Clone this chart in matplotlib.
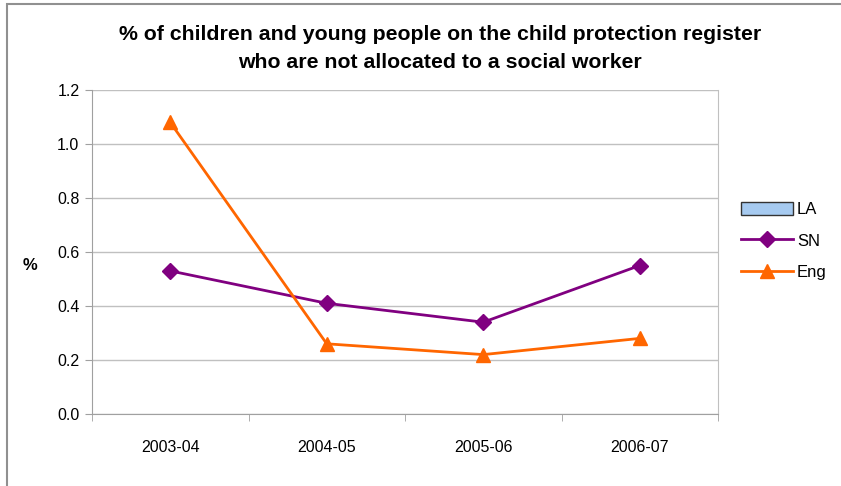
import numpy as np
import matplotlib.pyplot as plt
from matplotlib.patches import Rectangle

plt.rcParams['font.family'] = ['Liberation Sans', 'DejaVu Sans']

years = ['2003-04', '2004-05', '2005-06', '2006-07']
la = [np.nan, np.nan, np.nan, np.nan]
sn = [0.53, 0.41, 0.34, 0.55]
eng = [1.08, 0.26, 0.22, 0.28]
yticks = [0.0, 0.2, 0.4, 0.6, 0.8, 1.0, 1.2]

fig = plt.figure(figsize=(8.41, 4.86), dpi=100)
ax = fig.add_axes([92/841, 1 - 414/486, (718-92)/841, (414-90)/486])

x = np.arange(len(years))
h_la = ax.bar(x, la, color='#a6caf0', edgecolor='#333333', label='LA')
h_sn, = ax.plot(x, sn, color='#800080', lw=2, marker='D', ms=8, label='SN')
h_eng, = ax.plot(x, eng, color='#ff6600', lw=2, marker='^', ms=10, label='Eng')

ax.set_xlim(-0.5, len(years) - 0.5)
ax.set_ylim(0, 1.2)
ax.set_yticks(yticks)
ax.set_yticklabels([f'{v:.1f}' for v in yticks], fontsize=11.5)
ax.set_xticks(x)
ax.set_xticklabels(years, fontsize=11.5)
ax.set_xticks(np.arange(len(years) + 1) - 0.5, minor=True)
ax.tick_params(axis='x', which='major', length=0, pad=19)
ax.tick_params(axis='x', which='minor', length=5, color='#a0a0a0')
ax.tick_params(axis='y', length=5, color='#a0a0a0', pad=4)
ax.grid(axis='y', color='#c0c0c0', lw=1)
ax.set_axisbelow(True)
ax.spines['top'].set_visible(False)
ax.spines['right'].set_color('#c0c0c0')
ax.spines['left'].set_color('#a0a0a0')
ax.spines['bottom'].set_color('#a0a0a0')

fig.text(30/841, 1 - 266/486, '%', ha='center', va='center', fontsize=12, fontweight='bold')
fig.text(440/841, 1 - 35/486, '% of children and young people on the child protection register',
         ha='center', va='center', fontsize=15.3, fontweight='bold')
fig.text(440/841, 1 - 62/486, 'who are not allocated to a social worker',
         ha='center', va='center', fontsize=15.3, fontweight='bold')

ax.legend([h_la, h_sn, h_eng], ['LA', 'SN', 'Eng'],
          loc='center left', bbox_to_anchor=(741/841, 1 - 241/486), bbox_transform=fig.transFigure,
          frameon=False, fontsize=12, handlelength=3.1, handleheight=0.85, labelspacing=0.95,
          handletextpad=0.25, borderpad=0, borderaxespad=0)

fig.patches.append(Rectangle((7/841, -0.1), 1.2, 1 - 4/486 + 0.1, transform=fig.transFigure,
                             fill=False, edgecolor='#909090', lw=1.5))

fig.savefig('out.png', dpi=100)
